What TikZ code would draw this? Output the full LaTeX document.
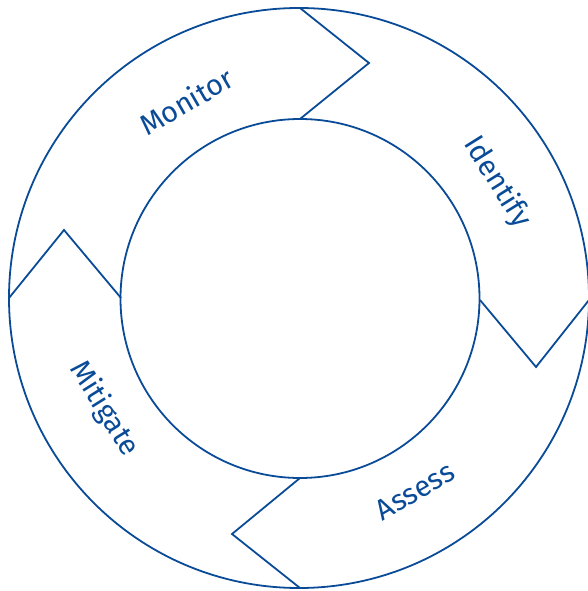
\documentclass[tikz,border=0pt]{standalone}
\usepackage{fontspec}
\setmainfont{Fira Sans}
\definecolor{cycleblue}{HTML}{0A4B98}
\begin{document}
\begin{tikzpicture}[x=1pt,y=-1pt,
  ring/.style={draw=cycleblue, line width=1.8pt, line join=miter},
  lbl/.style={text=cycleblue, font=\fontsize{29}{29}\selectfont, inner sep=0pt}]
\useasboundingbox (0,0) rectangle (588,591);

% outer and inner rings
\draw[ring] (299,298) circle[radius=290];
\draw[ring] (300,298.5) circle[radius=179.5];

% chevron separators between the four stages
\coordinate (topO) at (300,8);   \coordinate (topT) at (369,63);  \coordinate (topI) at (300,119);
\coordinate (rgtO) at (589,300); \coordinate (rgtT) at (536,367); \coordinate (rgtI) at (480,300);
\coordinate (botO) at (300,588); \coordinate (botT) at (232,534); \coordinate (botI) at (300,478);
\coordinate (lftO) at (9,298);   \coordinate (lftT) at (64,230);  \coordinate (lftI) at (121,298);
\draw[ring] (topO) -- (topT) -- (topI);
\draw[ring] (rgtO) -- (rgtT) -- (rgtI);
\draw[ring] (botO) -- (botT) -- (botI);
\draw[ring] (lftO) -- (lftT) -- (lftI);

% stage labels
\node[lbl, rotate=30]  (monitor)  at (186,101) {Monitor};
\node[lbl, rotate=-58] (identify) at (497,182) {Identify};
\node[lbl, rotate=30]  (assess)   at (415,491) {Assess};
\node[lbl, rotate=-58] (mitigate) at (104,409) {Mitigate};
\end{tikzpicture}
\end{document}
